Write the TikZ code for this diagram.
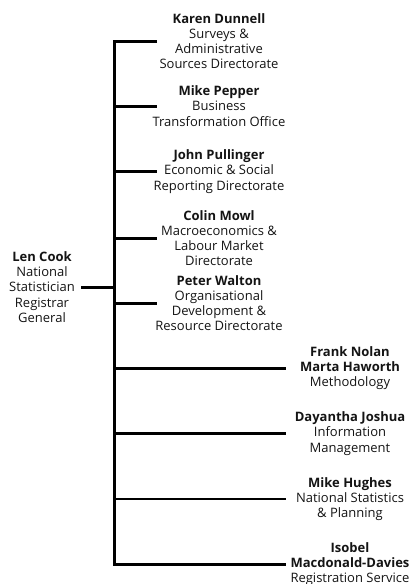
\documentclass[tikz,border=0pt]{standalone}
\usepackage{fontspec}
\setmainfont{Open Sans}
\begin{document}
\begin{tikzpicture}[x=1pt,y=-1pt,
  person/.style={inner sep=0pt,align=center,font=\fontsize{13}{15.2}\selectfont,text=black!92},
  link/.style={line width=3pt},
  thinlink/.style={line width=2.2pt}]
\useasboundingbox (0,0) rectangle (411,584);
\node[person] (karen) at (219,41) {\textbf{Karen Dunnell}\\Surveys \&\\Administrative\\Sources Directorate};
\node[person] (pepper) at (219,106) {\textbf{Mike Pepper}\\Business\\Transformation Office};
\node[person] (john) at (219,171.5) {\textbf{John Pullinger}\\Economic \& Social\\Reporting Directorate};
\node[person] (colin) at (219,238) {\textbf{Colin Mowl}\\Macroeconomics \&\\Labour Market\\Directorate};
\node[person] (peter) at (219,303) {\textbf{Peter Walton}\\Organisational\\Development \&\\Resource Directorate};
\node[person] (len) at (42,287) {\textbf{Len Cook}\\National\\Statistician\\Registrar\\General};
\node[person] (frank) at (350,368) {\textbf{Frank Nolan}\\\textbf{Marta Haworth}\\Methodology};
\node[person] (joshua) at (350,433.5) {\textbf{Dayantha Joshua}\\Information\\Management};
\node[person] (hughes) at (350,499) {\textbf{Mike Hughes}\\National Statistics\\\& Planning};
\node[person] (isobel) at (350,564) {\textbf{Isobel}\\\textbf{Macdonald-Davies}\\Registration Service};
% trunk and branch ends
\coordinate (tx) at (114,0);
\coordinate (lx) at (157,0);
\coordinate (rx) at (286,0);
\coordinate (lenx) at (81,0);
\draw[link,line join=miter] (lx |- karen) -- (tx |- karen) -- (tx |- isobel) -- (rx |- isobel);
\draw[link] (lenx |- len) -- (tx |- len);
\draw[link] (tx |- pepper) -- (lx |- pepper);
\draw[link] (tx |- john) -- (lx |- john);
\draw[link] (tx |- colin) -- (lx |- colin);
\draw[link] (tx |- peter) -- (lx |- peter);
\draw[link] (tx |- frank) -- (rx |- frank);
\draw[link] (tx |- joshua) -- (rx |- joshua);
\draw[thinlink] (tx |- hughes) -- (rx |- hughes);
\end{tikzpicture}
\end{document}
